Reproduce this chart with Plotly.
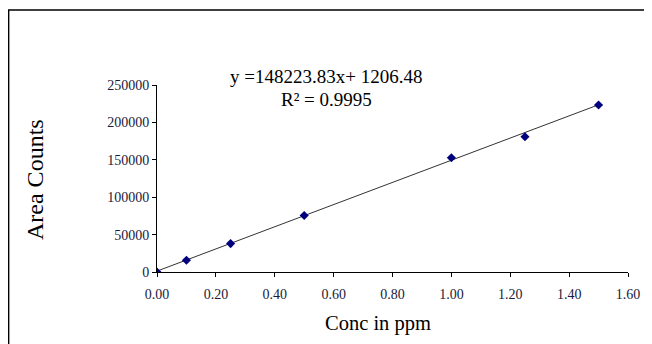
import plotly.graph_objects as go

conc_ppm = [0.0, 0.10, 0.25, 0.50, 1.00, 1.25, 1.50]
area_counts = [0, 15700, 38000, 75500, 152700, 180800, 223200]
slope = 148223.83
intercept = 1206.48
x_ticks = [0.0, 0.2, 0.4, 0.6, 0.8, 1.0, 1.2, 1.4, 1.6]
y_ticks = [0, 50000, 100000, 150000, 200000, 250000]
y_tick_labels = ["0", "50000", "100000", "150000", "200000", "250000"]

font_serif = "Liberation Serif, Times New Roman, serif"

trend_x = [0.0, max(conc_ppm)]
trend_y = [slope * v + intercept for v in trend_x]

fig = go.Figure()
fig.add_trace(go.Scatter(x=trend_x, y=trend_y, mode="lines",
                         line=dict(color="#333333", width=1), hoverinfo="skip", showlegend=False))
fig.add_trace(go.Scatter(x=conc_ppm, y=area_counts, mode="markers",
                         marker=dict(symbol="diamond", size=7, color="#00007f"),
                         showlegend=False))

fig.update_layout(
    width=644, height=336,
    margin=dict(l=149, r=24, t=77, b=72),
    paper_bgcolor="white", plot_bgcolor="white",
    font=dict(family=font_serif, color="#000000", size=14),
    xaxis=dict(range=[0, 1.6], tickvals=x_ticks, tickformat=".2f",
               showgrid=False, zeroline=False, showline=True, linecolor="black", linewidth=1,
               ticks="outside", ticklen=4, tickcolor="black", ticklabelstandoff=5,
               tickfont=dict(family=font_serif, size=14, color="#1a1a3a")),
    yaxis=dict(range=[0, 250000], tickvals=y_ticks, ticktext=y_tick_labels,
               showgrid=False, zeroline=False, showline=True, linecolor="black", linewidth=1,
               ticks="outside", ticklen=4, tickcolor="black",
               tickfont=dict(family=font_serif, size=14, color="#1a1a3a")),
    shapes=[dict(type="rect", xref="paper", yref="paper", x0=-0.315, x1=1.2, y0=-0.5, y1=1.401,
                 line=dict(color="black", width=1.5), fillcolor="rgba(0,0,0,0)", layer="below")],
    annotations=[
        dict(text=f"y ={slope:.2f}x+ {intercept:.2f}", xref="paper", yref="paper",
             x=0.359, y=1.043, showarrow=False, font=dict(family=font_serif, size=19, color="black"),
             xanchor="center", yanchor="middle"),
        dict(text="R² = 0.9995", xref="paper", yref="paper",
             x=0.359, y=0.925, showarrow=False, font=dict(family=font_serif, size=19, color="black"),
             xanchor="center", yanchor="middle"),
        dict(text="Area Counts", xref="paper", yref="paper", textangle=-90,
             x=-0.259, y=0.492, showarrow=False, font=dict(family=font_serif, size=24, color="black"),
             xanchor="center", yanchor="middle"),
        dict(text="Conc in ppm", xref="paper", yref="paper",
             x=0.469, y=-0.278, showarrow=False, font=dict(family=font_serif, size=20.5, color="black"),
             xanchor="center", yanchor="middle"),
    ],
)

fig.write_html("out.html")
